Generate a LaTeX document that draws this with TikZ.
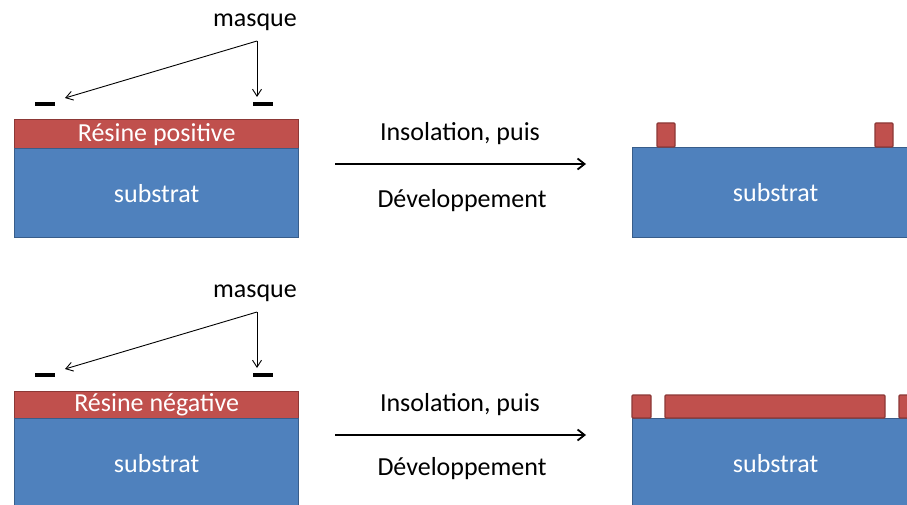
\documentclass[tikz,border=0pt]{standalone}
\usepackage{fontspec}
\setmainfont{Carlito}
\usetikzlibrary{arrows.meta}
\definecolor{subFill}{HTML}{4F81BD}
\definecolor{subBorder}{HTML}{385D8A}
\definecolor{resFill}{HTML}{C0504D}
\definecolor{resBorder}{HTML}{8C3836}
\begin{document}
\begin{tikzpicture}[x=1pt,y=-1pt,
  lbl/.style={font=\fontsize{26}{30}\selectfont, inner sep=0pt},
  substratbox/.style={draw=subBorder, fill=subFill, line width=1.3pt, anchor=north west, inner sep=0pt, text=white, font=\fontsize{26}{30}\selectfont, minimum width=284pt, minimum height=89pt},
  resinebox/.style={draw=resBorder, fill=resFill, line width=1.3pt, anchor=north west, inner sep=0pt, text=white, font=\fontsize{26}{30}\selectfont, minimum width=284pt, minimum height=29pt},
  piece/.style={draw=resBorder, fill=resFill, line width=1.3pt, rounded corners=1pt},
  maskbar/.style={fill=black, minimum width=20pt, minimum height=4pt, inner sep=0pt},
  thinarrow/.style={-{Straight Barb[length=7pt,width=9pt]}, line width=0.9pt},
  bigarrow/.style={-{Straight Barb[length=7pt,width=11pt]}, line width=1.8pt}
]
\useasboundingbox (0,0) rectangle (907,505);
\clip (0,0) rectangle (907,505);

% ---------- top row ----------
\node[resinebox] (r1) at (14,119) {Résine positive};
\node[substratbox] (s1) at (14,148) {substrat};
\node[maskbar] (m1a) at (45,104) {};
\node[maskbar] (m1b) at (263,104) {};
\node[lbl] (q1) at (255,22) {masque};
\coordinate (o1) at (257,41);
\coordinate (t1a) at (65,98);
\coordinate (t1b) at (257,97);
\draw[thinarrow] (o1) -- (t1a);
\draw[thinarrow] (o1) -- (t1b);

\coordinate (a1s) at (335,164);
\coordinate (a1e) at (586,164);
\draw[bigarrow] (a1s) -- (a1e);
\node[lbl] (i1) at (460,134) {Insolation, puis};
\node[lbl] (d1) at (462,201) {Développement};

\node[substratbox, minimum width=286pt, minimum height=90pt] (s2) at (632,147) {substrat};
\draw[piece] (657,123) rectangle (675,147);
\draw[piece] (875,123) rectangle (893,147);

% ---------- bottom row ----------
\node[resinebox, minimum height=27pt] (r3) at (14,391) {Résine négative};
\node[substratbox] (s3) at (14,418) {substrat};
\node[maskbar] (m3a) at (45,375) {};
\node[maskbar] (m3b) at (263,375) {};
\node[lbl] (q3) at (255,293) {masque};
\coordinate (o3) at (257,312);
\coordinate (t3a) at (65,369);
\coordinate (t3b) at (257,368);
\draw[thinarrow] (o3) -- (t3a);
\draw[thinarrow] (o3) -- (t3b);

\coordinate (a3s) at (335,435);
\coordinate (a3e) at (586,435);
\draw[bigarrow] (a3s) -- (a3e);
\node[lbl] (i3) at (460,405) {Insolation, puis};
\node[lbl] (d3) at (462,469) {Développement};

\node[substratbox, minimum width=286pt, minimum height=90pt] (s4) at (632,418) {substrat};
\draw[piece] (632,395) rectangle (651,418);
\draw[piece] (665,395) rectangle (885,418);
\draw[piece] (899,395) rectangle (930,418);
\end{tikzpicture}
\end{document}
